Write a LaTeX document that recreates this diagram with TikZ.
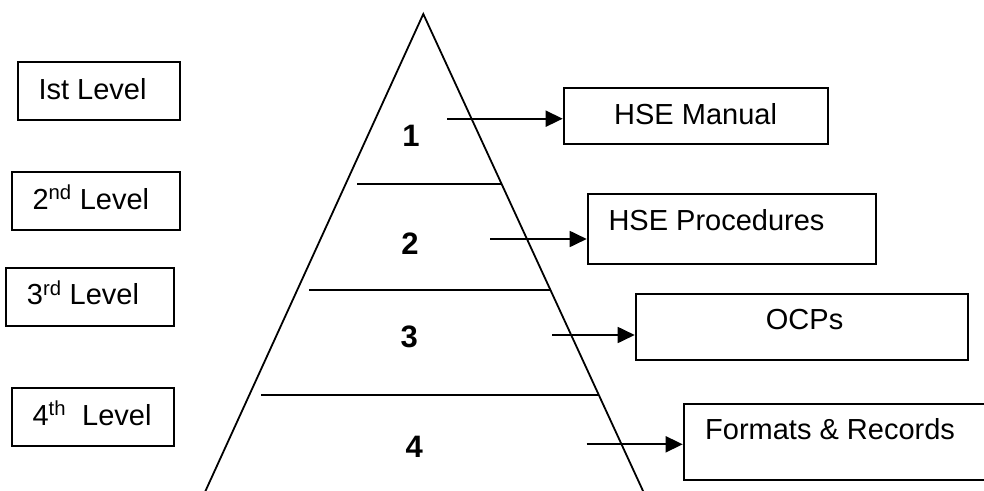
\documentclass[tikz,border=0pt]{standalone}
\usepackage{fontspec}
\setmainfont{Liberation Sans}
\usetikzlibrary{arrows.meta}
\begin{document}
\begin{tikzpicture}[x=1pt,y=-1pt,
  ln/.style={line width=1.8pt},
  box/.style={draw,line width=2pt,inner sep=0pt,anchor=north west},
  txt/.style={anchor=base west,inner sep=0pt,font=\fontsize{29}{33}\selectfont},
  num/.style={anchor=base west,inner sep=0pt,font=\fontsize{31}{35}\selectfont\bfseries},
  arr/.style={line width=1.8pt,-{Triangle[length=17pt,width=16pt]}}]
\clip (0,0) rectangle (984,490);
% pyramid
\coordinate (L) at (205,492);
\coordinate (A) at (423.3,14);
\coordinate (R) at (643.5,492);
\draw[ln] (L) -- (A) -- (R);
\coordinate (d1a) at (357.3,184.3); \coordinate (d1b) at (501.8,184.3);
\coordinate (d2a) at (309.3,290);   \coordinate (d2b) at (550.5,290);
\coordinate (d3a) at (261.3,395.3); \coordinate (d3b) at (599,395.3);
\draw[ln] (d1a) -- (d1b);
\draw[ln] (d2a) -- (d2b);
\draw[ln] (d3a) -- (d3b);
\node[num] (n1) at (402.2,146.7) {1};
\node[num] (n2) at (401.2,254) {2};
\node[num] (n3) at (400.5,347.3) {3};
\node[num] (n4) at (405.5,457.3) {4};
% left boxes
\node[box,minimum width=162.6pt,minimum height=58.3pt] (b1) at (16.7,61) {};
\node[box,minimum width=168.6pt,minimum height=58pt] (b2) at (10.7,171) {};
\node[box,minimum width=167.7pt,minimum height=57.7pt] (b3) at (5,267.3) {};
\node[box,minimum width=162.6pt,minimum height=58.3pt] (b4) at (10.7,386.7) {};
\node[txt] (t1) at (38.3,99.3) {Ist Level};
\node[txt] (t2) at (32.3,209) {2\textsuperscript{nd} Level};
\node[txt] (t3) at (26.7,304.3) {3\textsuperscript{rd} Level};
\node[txt] (t4) at (32.3,425) {4\textsuperscript{th}\ \ Level};
% right boxes
\node[box,minimum width=264.6pt,minimum height=56pt] (r1) at (562.7,86.7) {};
\node[box,minimum width=288.3pt,minimum height=69.4pt] (r2) at (586.7,193.3) {};
\node[box,minimum width=332pt,minimum height=66pt] (r3) at (634.7,293.3) {};
\node[box,minimum width=330pt,minimum height=76.6pt] (r4) at (682.7,402.7) {};
\node[txt] (s1) at (614,124) {HSE Manual};
\node[txt] (s2) at (608.3,230.7) {HSE Procedures};
\node[txt] (s3) at (765.7,329.3) {OCPs};
\node[txt] (s4) at (705,439) {Formats \& Records};
% arrows
\coordinate (a1) at (447.3,118.7);
\coordinate (a2) at (490,239);
\coordinate (a3) at (552,335);
\coordinate (a4) at (586.7,444.3);
\draw[arr] (a1) -- (a1 -| r1.west);
\draw[arr] (a2) -- (a2 -| r2.west);
\draw[arr] (a3) -- (a3 -| r3.west);
\draw[arr] (a4) -- (a4 -| r4.west);
\end{tikzpicture}
\end{document}
